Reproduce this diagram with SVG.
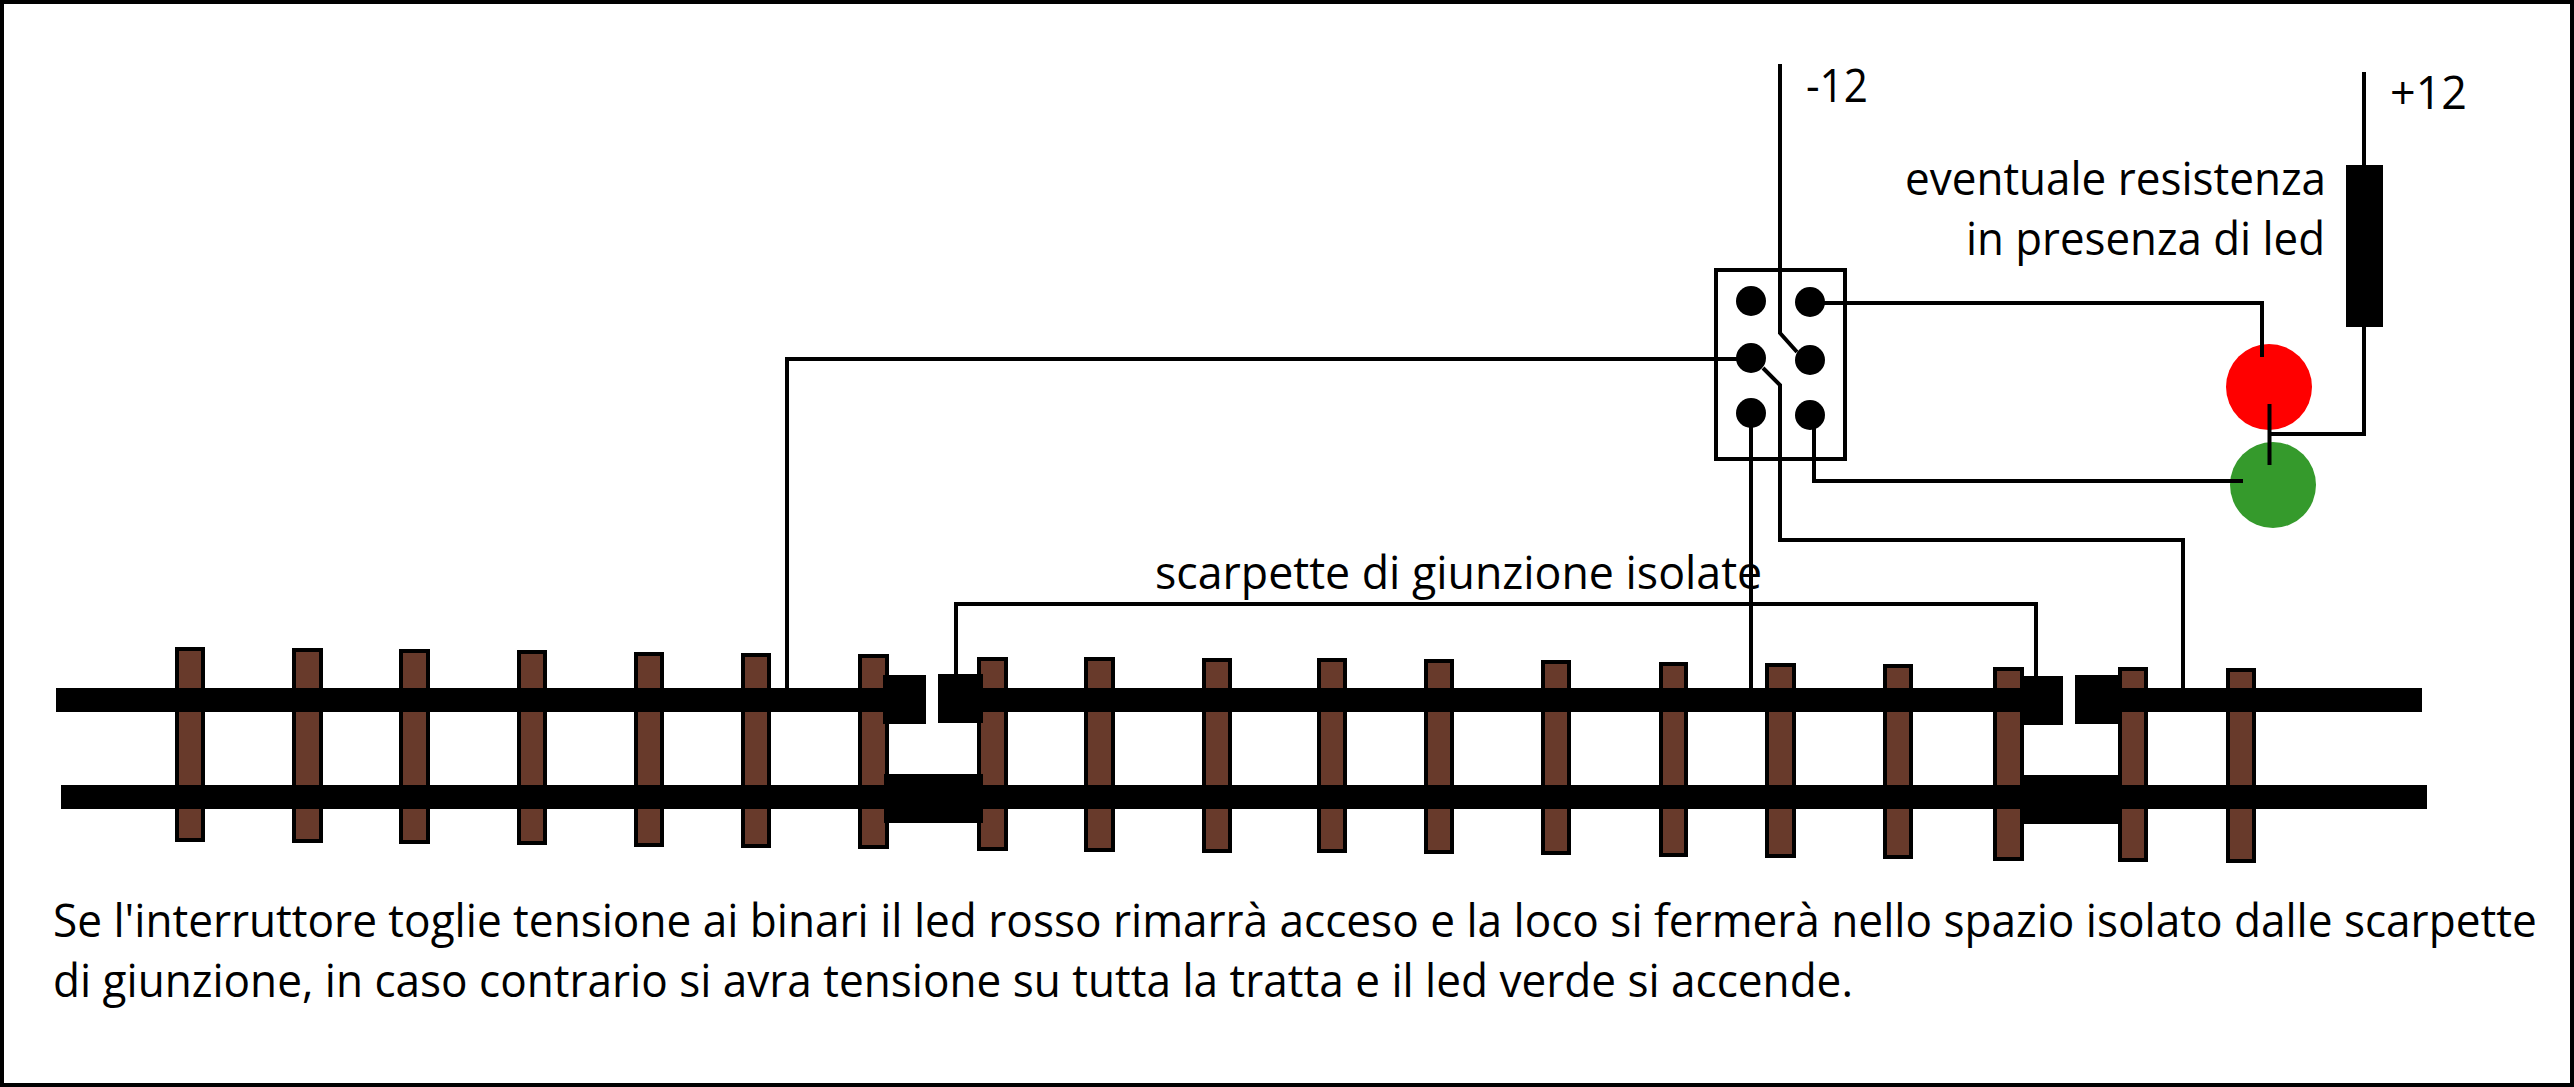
<svg xmlns="http://www.w3.org/2000/svg" width="2574" height="1087" viewBox="0 0 2574 1087">
<style>
.t{fill:#683a2b;stroke:#000;stroke-width:4}
.r{fill:#000}
.w{fill:none;stroke:#000;stroke-width:4}
.d{fill:#000}
text{font-family:"Open Sans","Noto Sans",sans-serif;font-size:46px;fill:#000}
</style>
<rect x="2" y="2" width="2570" height="1083" fill="#fff" stroke="#000" stroke-width="4"/>
<g id="sleepers">
<rect class="t" x="177" y="649" width="26" height="191"/>
<rect class="t" x="294" y="650" width="27" height="191"/>
<rect class="t" x="401" y="651" width="27" height="191"/>
<rect class="t" x="519" y="652" width="26" height="191"/>
<rect class="t" x="636" y="654" width="26" height="191"/>
<rect class="t" x="743" y="655" width="26" height="191"/>
<rect class="t" x="860" y="656" width="27" height="191"/>
<rect class="t" x="979" y="659" width="27" height="190"/>
<rect class="t" x="1086" y="659" width="27" height="191"/>
<rect class="t" x="1204" y="660" width="26" height="191"/>
<rect class="t" x="1319" y="660" width="26" height="191"/>
<rect class="t" x="1426" y="661" width="26" height="191"/>
<rect class="t" x="1543" y="662" width="26" height="191"/>
<rect class="t" x="1661" y="664" width="25" height="191"/>
<rect class="t" x="1767" y="665" width="27" height="191"/>
<rect class="t" x="1885" y="666" width="26" height="191"/>
<rect class="t" x="1995" y="669" width="27" height="190"/>
<rect class="t" x="2120" y="669" width="26" height="191"/>
<rect class="t" x="2228" y="670" width="26" height="191"/>
</g>
<g id="rails">
<rect class="r" x="56" y="688" width="2366" height="24"/>
<rect class="r" x="61" y="785" width="2366" height="24"/>
<rect x="926" y="670" width="12" height="60" fill="#fff"/>
<rect x="2063" y="670" width="12" height="60" fill="#fff"/>
</g>
<g id="joiners">
<rect class="r" x="883" y="675" width="43" height="49"/>
<rect class="r" x="938" y="674" width="45" height="49"/>
<rect class="r" x="884" y="774" width="99" height="49"/>
<rect class="r" x="2024" y="676" width="39" height="49"/>
<rect class="r" x="2075" y="675" width="47" height="49"/>
<rect class="r" x="2024" y="775" width="98" height="49"/>
</g>
<g id="connectors">
<path class="w" d="M1780 64V333L1797 352"/>
<path class="w" d="M1763 368L1780 385V540H2183V688"/>
<path class="w" d="M1810 303H2262V357"/>
<path class="w" d="M2269 434H2364V72"/>
<path class="w" d="M1814 415V481H2243"/>
<path class="w" d="M1751 359H787V688"/>
<path class="w" d="M1751 413V688"/>
<path class="w" d="M956 676V604H2036V678"/>
</g>
<g id="switch">
<rect x="1716" y="270" width="129" height="189" fill="none" stroke="#000" stroke-width="4"/>
<circle class="d" cx="1751" cy="301" r="15"/>
<circle class="d" cx="1810" cy="302" r="15"/>
<circle class="d" cx="1751" cy="358" r="15"/>
<circle class="d" cx="1810" cy="360" r="15"/>
<circle class="d" cx="1751" cy="413" r="15"/>
<circle class="d" cx="1810" cy="415" r="15"/>
</g>
<g id="led-red"><circle cx="2269" cy="387" r="43" fill="#ff0000"/><path class="w" d="M2262 344V357"/><path class="w" d="M2269.500 404V430"/></g>
<g id="led-green"><circle cx="2273" cy="485" r="43" fill="#359a2c"/><path class="w" d="M2269.500 430V465"/><path class="w" d="M2230 481H2243"/></g>
<g id="resistor"><rect class="r" x="2346" y="165" width="37" height="162"/></g>
<g id="labels">
<text transform="translate(1806 102) scale(.86 1)" textLength="72" lengthAdjust="spacingAndGlyphs">-12</text>
<text transform="translate(2390 109) scale(.86 1)" textLength="89.500" lengthAdjust="spacingAndGlyphs">+12</text>
<text transform="translate(1905 195) scale(.86 1)" textLength="489.500" lengthAdjust="spacingAndGlyphs">eventuale resistenza</text>
<text transform="translate(1966 255) scale(.86 1)" textLength="417.400" lengthAdjust="spacingAndGlyphs">in presenza di led</text>
<text transform="translate(1155 589) scale(.86 1)" textLength="706" lengthAdjust="spacingAndGlyphs">scarpette di giunzione isolate</text>
<text transform="translate(53 937) scale(.86 1)" textLength="2888" lengthAdjust="spacingAndGlyphs">Se l'interruttore toglie tensione ai binari il led rosso rimarrà acceso e la loco si fermerà nello spazio isolato dalle scarpette</text>
<text transform="translate(53 997) scale(.86 1)" textLength="2093" lengthAdjust="spacingAndGlyphs">di giunzione, in caso contrario si avra tensione su tutta la tratta e il led verde si accende.</text>
</g>
</svg>
